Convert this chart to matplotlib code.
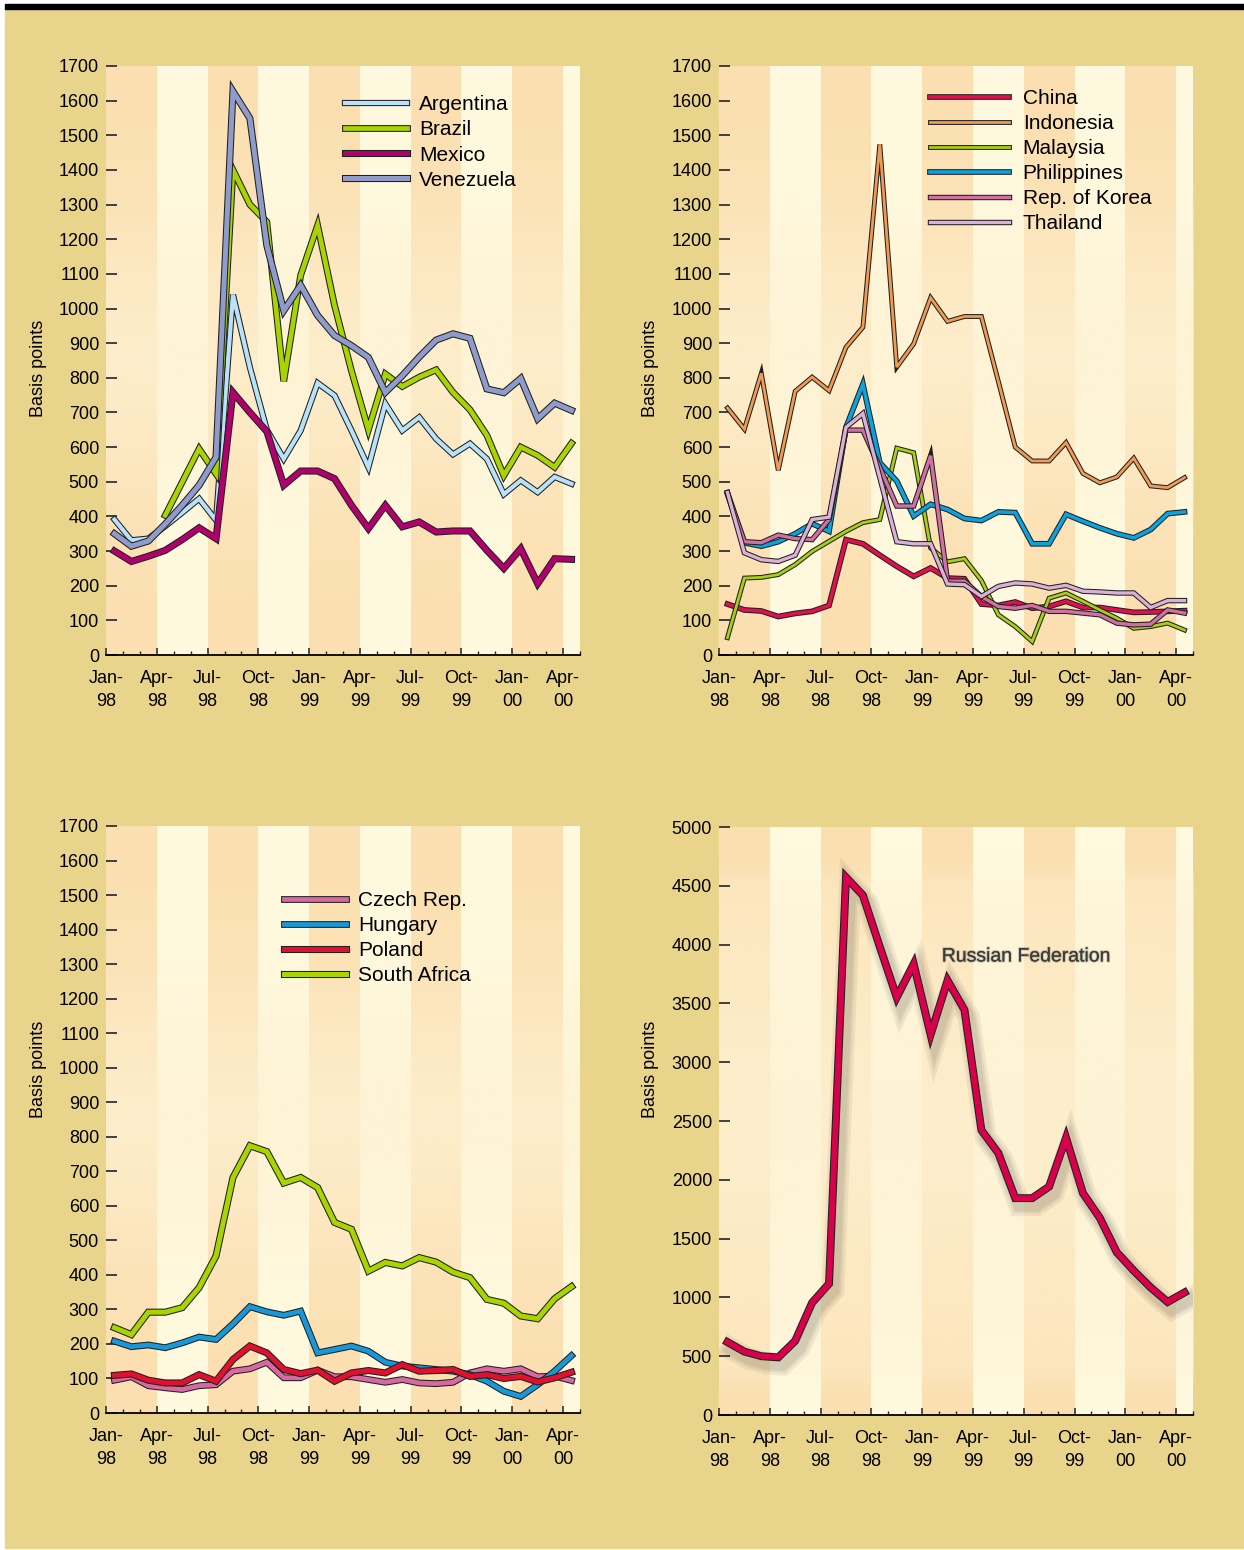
import matplotlib
matplotlib.use("Agg")
import matplotlib.pyplot as plt
import matplotlib.patheffects as pe
from matplotlib.patches import Rectangle
import numpy as np

plt.rcParams["font.family"] = ["Liberation Sans", "DejaVu Sans"]

# ---------------------------------------------------------------------------
# Data (basis points, monthly Jan-98 .. Apr-00)
# ---------------------------------------------------------------------------
month_ticks = ["Jan-\n98", "Apr-\n98", "Jul-\n98", "Oct-\n98", "Jan-\n99",
               "Apr-\n99", "Jul-\n99", "Oct-\n99", "Jan-\n00", "Apr-\n00"]

argentina = [391, 331, 336, 372, 411, 451, 389, 1040, 830, 650, 566, 648, 785, 749,
             648, 542, 725, 648, 686, 624, 579, 610, 566, 464, 504, 470, 514, 494]
brazil = [None, None, None, 403, 499, 595, 523, 1400, 1300, 1250, 790, 1096, 1240, 1009,
          820, 650, 811, 775, 802, 823, 758, 708, 634, 518, 600, 576, 542, 611]
mexico = [300, 270, 285, 302, 333, 367, 336, 758, 700, 645, 490, 531, 531, 509,
          432, 365, 432, 370, 384, 355, 358, 358, 302, 250, 307, 206, 278, 276]
venezuela = [350, 314, 329, 378, 432, 490, 571, 1627, 1549, 1182, 994, 1067, 980, 922,
             893, 859, 758, 806, 860, 909, 927, 914, 768, 757, 798, 682, 727, 706]

china = [147, 130, 127, 111, 120, 126, 143, 333, 321, 288, 256, 227, 251, 222,
         220, 147, 143, 153, 135, 140, 155, 137, 137, 130, 123, 124, 126, 128]
indonesia = [713, 652, 813, 533, 761, 802, 763, 888, 946, 1474, 831, 898, 1031, 963,
             977, 977, 790, 600, 560, 560, 613, 524, 497, 514, 568, 488, 483, 512]
malaysia = [50, 222, 224, 232, 261, 299, 328, 357, 382, 391, 597, 584, 309, 269,
            278, 215, 116, 82, 39, 164, 179, 155, 130, 106, 77, 82, 92, 72]
philippines = [464, 324, 314, 327, 350, 379, 357, 657, 782, 555, 502, 401, 435, 420,
               394, 388, 413, 411, 321, 321, 406, 386, 367, 350, 338, 362, 408, 413]
korea = [469, 327, 324, 346, 336, 333, 391, 649, 649, 541, 430, 430, 575, 213,
         213, 169, 140, 135, 143, 126, 126, 121, 116, 92, 87, 89, 130, 121]
thailand = [469, 295, 275, 270, 288, 391, 398, 657, 697, 512, 327, 321, 321, 205,
            203, 169, 198, 208, 205, 193, 201, 184, 182, 179, 179, 137, 157, 157]

czech = [95, 105, 79, 73, 68, 79, 82, 121, 128, 147, 102, 102, 124, 105,
         105, 97, 89, 97, 87, 85, 89, 116, 128, 121, 128, 105, 107, 94]
hungary = [208, 192, 197, 189, 203, 220, 213, 258, 308, 293, 283, 295, 174, 184,
           194, 179, 147, 136, 131, 126, 121, 111, 92, 63, 48, 82, 121, 166]
poland = [109, 113, 95, 87, 87, 111, 92, 155, 194, 174, 126, 114, 124, 92,
          116, 123, 116, 140, 121, 123, 126, 106, 111, 100, 106, 90, 102, 118]
south_africa = [247, 227, 292, 292, 305, 363, 455, 682, 774, 757, 666, 682, 653, 552,
                532, 411, 436, 426, 450, 437, 408, 392, 329, 318, 281, 273, 331, 366]

russia = [620, 539, 500, 490, 630, 955, 1117, 4572, 4419, 3981, 3552, 3835, 3234, 3695,
          3445, 2422, 2227, 1844, 1844, 1942, 2357, 1886, 1675, 1383, 1227, 1084, 961, 1042]

BEIGE = "#E9D48C"
ORANGE = "#FBDFB0"
PALE = "#FFFADF"
WASH = np.array([254, 241, 210]) / 255.0

fig = plt.figure(figsize=(12.44, 15.5), dpi=100)
fig.patch.set_facecolor("white")
fig.patches.append(Rectangle((5 / 1244, 2 / 1550), 1239 / 1244, 1539 / 1550,
                             transform=fig.transFigure, color=BEIGE, zorder=-10))
fig.patches.append(Rectangle((5 / 1244, 1 - 9 / 1550), 1239 / 1244, 5 / 1550,
                             transform=fig.transFigure, color="black", zorder=-9))


def px_axes(left, top, right, bottom):
    W, H = 1244.0, 1550.0
    return fig.add_axes([left / W, 1 - bottom / H, (right - left) / W, (bottom - top) / H])


def style_axes(ax, ymax, ystep, label_pos, wash_rect=None):
    ax.set_facecolor("none")
    ax.set_xlim(0, 28)
    ax.set_ylim(0, ymax)
    # quarter bands
    for q in range(10):
        ax.axvspan(q * 3, min(q * 3 + 3, 28), color=ORANGE if q % 2 == 0 else PALE,
                   lw=0, zorder=0)
    # soft vertical wash in the middle of the panel
    f = np.linspace(0, 1, 300)
    alpha = 0.75 * np.exp(-((f - 0.5) / 0.25) ** 2)
    if wash_rect is not None:
        lo, hi = wash_rect
        inside = 1 / (1 + np.exp(-(f - lo) / 0.01)) * 1 / (1 + np.exp((f - hi) / 0.01))
        alpha = inside * (0.35 + 0.45 * np.exp(-((f - 0.5) / 0.3) ** 2))
    img = np.zeros((300, 1, 4))
    img[:, 0, :3] = WASH
    img[:, 0, 3] = alpha
    ax.imshow(img, extent=(0, 28, 0, ymax), origin="lower", aspect="auto",
              zorder=1, interpolation="bilinear")
    for s in ["top", "right", "left"]:
        ax.spines[s].set_visible(False)
    ax.spines["bottom"].set_linewidth(1.3)
    ax.spines["bottom"].set_zorder(5)
    ax.set_xticks(np.arange(0, 28, 3))
    ax.set_xticklabels(month_ticks, fontsize=13, linespacing=1.45)
    ax.set_xticks([m for m in range(1, 29) if m % 3 != 0], minor=True)
    ax.tick_params(axis="x", which="major", direction="in", length=5, width=1.1,
                   pad=11, color="#222222")
    ax.tick_params(axis="x", which="minor", direction="in", length=3, width=1.0,
                   color="#222222")
    ax.set_yticks(np.arange(0, ymax + 1, ystep))
    ax.tick_params(axis="y", direction="in", length=8, width=1.3, pad=5,
                   color="#333333", labelsize=13)
    ax.set_ylabel("Basis points", fontsize=13)
    ax.yaxis.set_label_coords(*label_pos)


def outlined(lw):
    return [pe.Stroke(linewidth=lw + 1.5, foreground="#202020"), pe.Normal()]


x = np.arange(28) + 0.5


def series(vals):
    return np.array([np.nan if v is None else v for v in vals], dtype=float)


legend_kw = dict(loc="upper left", frameon=False, fontsize=15, labelspacing=0.29,
                 borderpad=0, borderaxespad=0)

# --- Latin America ---------------------------------------------------------
ax1 = px_axes(106, 66, 580, 655)
style_axes(ax1, 1700, 100, (-0.124, 0.486))
for vals, name, col, lw in [(argentina, "Argentina", "#B8E2FA", 3.0),
                            (brazil, "Brazil", "#A8D400", 3.4),
                            (mexico, "Mexico", "#B0006E", 3.6),
                            (venezuela, "Venezuela", "#8E9BCB", 3.6)]:
    ax1.plot(x, series(vals), color=col, lw=lw, label=name, zorder=3,
             solid_joinstyle="miter", path_effects=outlined(lw))
ax1.legend(bbox_to_anchor=(0.504, 0.950), handlelength=3.0, handletextpad=0.55,
           **legend_kw)

# --- Asia ------------------------------------------------------------------
ax2 = px_axes(719, 66, 1193, 655)
style_axes(ax2, 1700, 100, (-0.127, 0.486))
for vals, name, col, lw in [(china, "China", "#E0104F", 2.6),
                            (indonesia, "Indonesia", "#F29A52", 2.0),
                            (malaysia, "Malaysia", "#A6D010", 2.0),
                            (philippines, "Philippines", "#0AA3E0", 2.6),
                            (korea, "Rep. of Korea", "#D070A4", 2.4),
                            (thailand, "Thailand", "#DDB0D8", 2.4)]:
    ax2.plot(x, vals, color=col, lw=lw, label=name, zorder=3,
             solid_joinstyle="miter", path_effects=outlined(lw))
ax2.legend(bbox_to_anchor=(0.445, 0.961), handlelength=3.8, handletextpad=0.65,
           **legend_kw)

# --- Europe / Africa -------------------------------------------------------
ax3 = px_axes(106, 826, 580, 1413)
style_axes(ax3, 1700, 100, (-0.124, 0.586))
for vals, name, col, lw in [(czech, "Czech Rep.", "#D868A2", 3.4),
                            (hungary, "Hungary", "#1898D8", 3.4),
                            (poland, "Poland", "#E0102F", 3.6),
                            (south_africa, "South Africa", "#A8D400", 3.6)]:
    ax3.plot(x, vals, color=col, lw=lw, label=name, zorder=3,
             solid_joinstyle="miter", path_effects=outlined(lw))
ax3.legend(bbox_to_anchor=(0.3755, 0.889), handlelength=3.0, handletextpad=0.55,
           **legend_kw)

# --- Russian Federation ----------------------------------------------------
ax4 = px_axes(719, 827, 1193, 1415)
style_axes(ax4, 5000, 500, (-0.127, 0.588), wash_rect=(0.053, 0.924))
shadow = [pe.SimpleLineShadow(offset=(3, -5), shadow_color="black", alpha=0.06,
                              linewidth=w) for w in (16, 12, 9)]
ax4.plot(x, russia, color="#D8004A", lw=4.2, zorder=3, solid_joinstyle="miter",
         path_effects=shadow + outlined(4.2))
ax4.text(0.470, 0.779, "Russian Federation", transform=ax4.transAxes,
         fontsize=14, color="#3C3C3C", va="center", ha="left", zorder=4,
         path_effects=[pe.withStroke(linewidth=1.6, foreground=(0.3, 0.3, 0.3, 0.25))])

fig.savefig("out.png", dpi=100, facecolor=fig.get_facecolor())
